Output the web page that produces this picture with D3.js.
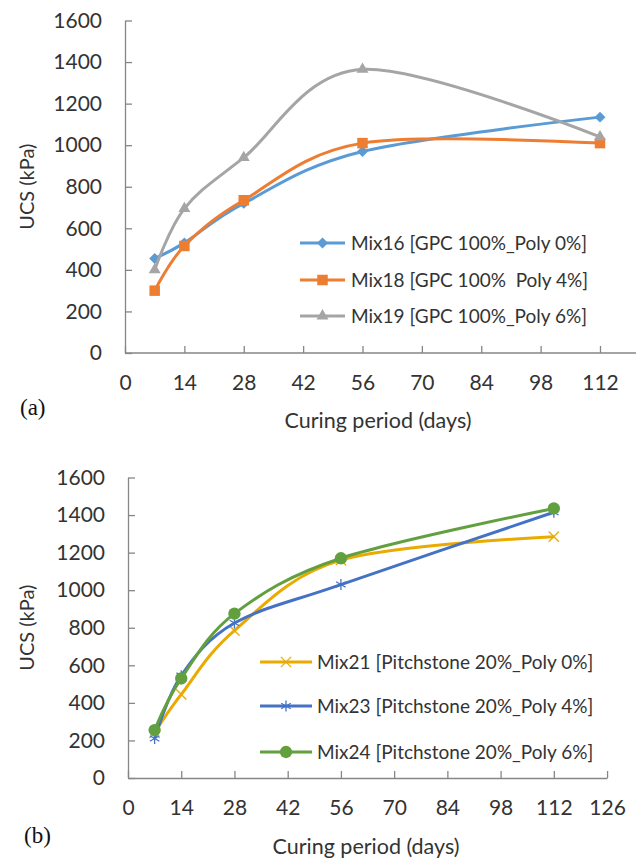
<!DOCTYPE html>
<html>
<head>
<meta charset="utf-8">
<script src="https://cdn.jsdelivr.net/npm/d3@7"></script>
<style>
  html, body { margin: 0; padding: 0; background: #fff; }
  svg { display: block; }
</style>
</head>
<body>
<div id="chart"></div>
<script>
// curing ages (days) and UCS values (kPa)
const daysA = [7, 14, 28, 56, 112];
const mix16 = [455, 530, 720, 970, 1135];
const mix18 = [300, 515, 735, 1010, 1010];
const mix19 = [400, 695, 940, 1365, 1040];

const daysB = [7, 14, 28, 56, 112];
const mix21 = [240, 445, 785, 1160, 1285];
const mix23 = [210, 545, 825, 1030, 1415];
const mix24 = [255, 530, 875, 1170, 1435];

const ucsTicks = [0, 200, 400, 600, 800, 1000, 1200, 1400, 1600];
const dayTicks = [0, 14, 28, 42, 56, 70, 84, 98, 112, 126];

const namesA = ['Mix16 [GPC 100%_Poly 0%]', 'Mix18 [GPC 100%  Poly 4%]', 'Mix19 [GPC 100%_Poly 6%]'];
const namesB = ['Mix21 [Pitchstone 20%_Poly 0%]', 'Mix23 [Pitchstone 20%_Poly 4%]', 'Mix24 [Pitchstone 20%_Poly 6%]'];

//canvas
const W = 636, H = 858;
const FONT = 'Lato, "Open Sans", sans-serif';
const AXIS_COLOR = '#868686';
const TEXT_COLOR = '#333333';

//panel layout
const PANEL_A = {
	x0: 125, pxPerDay: 4.241, yTop: 20.5, yBottom: 353,
	legend: { x1: 300, x2: 345, textX: 351, rows: [243, 280, 316] },
	tag: { text: '(a)', x: 20, y: 415 },
	xTitle: { x: 378, y: 428 },
	yTitle: { x: 27 },
	clipRight: true
};
const PANEL_B = {
	x0: 128, pxPerDay: 3.802, yTop: 477.5, yBottom: 778,
	legend: { x1: 260, x2: 312, textX: 317, rows: [662, 706, 752] },
	tag: { text: '(b)', x: 24, y: 843 },
	xTitle: { x: 366, y: 854 },
	yTitle: { x: 27 },
	clipRight: false
};

const SERIES_A = [
	{ name: namesA[0], days: daysA, vals: mix16, color: '#5B9BD5', symbol: 'diamond' },
	{ name: namesA[1], days: daysA, vals: mix18, color: '#ED7D31', symbol: 'square' },
	{ name: namesA[2], days: daysA, vals: mix19, color: '#A5A5A5', symbol: 'triangle' }
];
const SERIES_B = [
	{ name: namesB[0], days: daysB, vals: mix21, color: '#EAAA00', symbol: 'times' },
	{ name: namesB[1], days: daysB, vals: mix23, color: '#4472C4', symbol: 'asterisk' },
	{ name: namesB[2], days: daysB, vals: mix24, color: '#62A03F', symbol: 'circle' }
];

const svg = d3.select('#chart').append('svg')
	.attr('width', W)
	.attr('height', H)
	.attr('viewBox', `0 0 ${W} ${H}`)
	.style('font-family', FONT);

svg.append('rect').attr('width', W).attr('height', H).attr('fill', '#fff');

// excel-ish marker shapes
function drawMarker(g, kind, color) {
	if (kind === 'diamond') {
		g.append('path').attr('d', d3.symbol(d3.symbolSquare, 60)()).attr('transform', 'rotate(45)').attr('fill', color);
	} else if (kind === 'square') {
		g.append('path').attr('d', d3.symbol(d3.symbolSquare, 110)()).attr('fill', color);
	} else if (kind === 'triangle') {
		g.append('path').attr('d', d3.symbol(d3.symbolTriangle, 62)()).attr('fill', color);
	} else if (kind === 'circle') {
		g.append('path').attr('d', d3.symbol(d3.symbolCircle, 120)()).attr('fill', color);
	} else if (kind === 'times') {
		g.append('path').attr('d', d3.symbol(d3.symbolTimes, 70)()).attr('fill', 'none').attr('stroke', color).attr('stroke-width', 1.3);
	} else if (kind === 'asterisk') {
		g.append('path').attr('d', d3.symbol(d3.symbolAsterisk, 85)()).attr('fill', 'none').attr('stroke', color).attr('stroke-width', 1.3);
	}
}

function drawPanel(cfg, series) {
	const x = d3.scaleLinear()
		.domain([0, 126])
		.range([cfg.x0, cfg.x0 + 126 * cfg.pxPerDay]);
	const y = d3.scaleLinear()
		.domain([0, 1600])
		.range([cfg.yBottom, cfg.yTop]);

	const g = svg.append('g');

	// x axis, ticks pointing up into the plot
	const xTickVals = dayTicks.filter(d => x(d) <= W);
	const gx = g.append('g')
		.attr('transform', `translate(0,${cfg.yBottom})`)
		.call(d3.axisBottom(x)
			.tickValues(xTickVals)
			.tickSizeInner(-7)
			.tickSizeOuter(0)
			.tickPadding(22)
			.tickFormat(d3.format('d')));
	if (cfg.clipRight) {
		gx.select('.domain').attr('d', `M${cfg.x0},0H${W}`);
	}

	// y axis, ticks pointing right
	const gy = g.append('g')
		.attr('transform', `translate(${cfg.x0},0)`)
		.call(d3.axisLeft(y)
			.tickValues(ucsTicks)
			.tickSizeInner(-7)
			.tickSizeOuter(0)
			.tickPadding(23)
			.tickFormat(d3.format('d')));

	[gx, gy].forEach(a => {
		a.select('.domain').attr('stroke', AXIS_COLOR).attr('stroke-width', 1.3);
		a.selectAll('.tick line').attr('stroke', AXIS_COLOR).attr('stroke-width', 1.3);
		a.selectAll('.tick text')
			.attr('fill', TEXT_COLOR)
			.attr('font-size', 21)
			.attr('font-family', FONT);
	});

	// axis titles
	g.append('text')
		.attr('x', cfg.xTitle.x)
		.attr('y', cfg.xTitle.y)
		.attr('text-anchor', 'middle')
		.attr('fill', TEXT_COLOR)
		.attr('font-size', 21.5)
		.text('Curing period (days)');

	g.append('text')
		.attr('transform', `translate(${cfg.yTitle.x},${(cfg.yTop + cfg.yBottom) / 2}) rotate(-90)`)
		.attr('text-anchor', 'middle')
		.attr('dy', '0.35em')
		.attr('fill', TEXT_COLOR)
		.attr('font-size', 20)
		.text('UCS (kPa)');

	g.append('text')
		.attr('x', cfg.tag.x)
		.attr('y', cfg.tag.y)
		.attr('fill', '#111')
		.attr('font-family', '"Liberation Serif", "Times New Roman", serif')
		.attr('font-size', 23)
		.text(cfg.tag.text);

	// smoothed lines like excel's "smoothed line" option
	const line = d3.line()
		.x(d => x(d[0]))
		.y(d => y(d[1]))
		.curve(d3.curveCardinal.tension(0));

	series.forEach(s => {
		const pts = s.days.map((d, i) => [d, s.vals[i]]);
		g.append('path')
			.datum(pts)
			.attr('fill', 'none')
			.attr('stroke', s.color)
			.attr('stroke-width', 3)
			.attr('stroke-linejoin', 'round')
			.attr('d', line);

		g.selectAll(null)
			.data(pts)
			.enter()
			.append('g')
			.attr('transform', d => `translate(${x(d[0])},${y(d[1])})`)
			.each(function () { drawMarker(d3.select(this), s.symbol, s.color); });
	});

	// legend
	const lg = g.append('g');
	series.forEach((s, i) => {
		const ry = cfg.legend.rows[i];
		lg.append('line')
			.attr('x1', cfg.legend.x1)
			.attr('x2', cfg.legend.x2)
			.attr('y1', ry)
			.attr('y2', ry)
			.attr('stroke', s.color)
			.attr('stroke-width', 3);
		const m = lg.append('g')
			.attr('transform', `translate(${(cfg.legend.x1 + cfg.legend.x2) / 2},${ry})`);
		drawMarker(m, s.symbol, s.color);
		lg.append('text')
			.attr('x', cfg.legend.textX)
			.attr('y', ry)
			.attr('dy', '0.35em')
			.attr('fill', TEXT_COLOR)
			.attr('font-size', 19)
			.style('white-space', 'pre')
			.text(s.name);
	});
}

drawPanel(PANEL_A, SERIES_A);
drawPanel(PANEL_B, SERIES_B);
</script>
</body>
</html>
